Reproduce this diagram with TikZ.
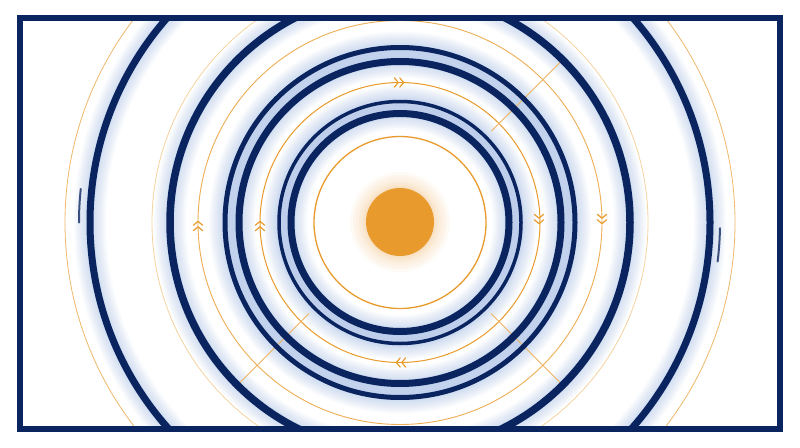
\documentclass[tikz,border=0pt]{standalone}
\definecolor{navy}{RGB}{10,36,96}
\definecolor{glowblue}{RGB}{110,150,220}
\definecolor{amber}{RGB}{232,154,44}
\tikzset{
  chevstyle/.style={draw=amber, line width=1.2, line cap=round, line join=round},
  dchev/.pic={\draw[chevstyle] (-4.6,-4.6) -- (-0.8,0) -- (-4.6,4.6) (0.8,-4.6) -- (4.6,0) -- (0.8,4.6);},
  spoke/.style={draw=amber!75, line width=0.9},
}
\begin{document}
\begin{tikzpicture}[x=1pt,y=-1pt]
\useasboundingbox (0,0) rectangle (800,447);
\fill[white] (0,0) rectangle (800,447);
\coordinate (C) at (400,222.5);
\begin{scope}
\clip (19.7,17.5) rectangle (780,429);
% glow around the dark rings
\foreach \r in {109,121,161,175,230,310}{
  \foreach \g in {32,29,26,23,20,17,14,11,9}
    \draw[glowblue, draw opacity=0.035, line width=\g] (C) circle (\r);
}
% orange orbits
\draw[amber, line width=1.3] (C) circle (86);
\draw[amber, line width=1] (C) circle (140);
\draw[amber!80, line width=0.9] (C) circle (202);
\draw[amber!45, line width=0.8] (C) circle (248);
\draw[amber!70, line width=0.8] (C) circle (335);
% radial spokes
\draw[spoke] (C) ++(-45:129) -- ++(-45:102);
\draw[spoke] (C) ++(135:129) -- ++(135:100);
\draw[spoke] (C) ++(45:129) -- ++(45:100);
% dark rings
\foreach \r/\w in {109/7,121/3.5,161/7,175/5,230/7.5,310/7}
  \draw[navy, line width=\w] (C) circle (\r);
% small dark slivers
\draw[navy!80, line width=2, line cap=round] (C) ++(180:321) arc[start angle=180, end angle=186, radius=321];
\draw[navy!80, line width=2, line cap=round] (C) ++(1:320) arc[start angle=1, end angle=7, radius=320];
% chevrons
\pic at (399,82.5) {dchev};
\pic[rotate=180] at (401,362.5) {dchev};
\pic[rotate=90] at (260,226) {dchev};
\pic[rotate=-90] at (539,219) {dchev};
\pic[rotate=90] at (198,226) {dchev};
\pic[rotate=-90] at (602,219) {dchev};
% central sun
\foreach \r in {50,47,44,41,39,37,35.5}
  \fill[amber, opacity=0.045] (400,222) circle (\r);
\fill[amber] (400,222) circle (34);
\end{scope}
\draw[navy, line width=6] (19.7,17.5) rectangle (780,429);
\end{tikzpicture}
\end{document}
